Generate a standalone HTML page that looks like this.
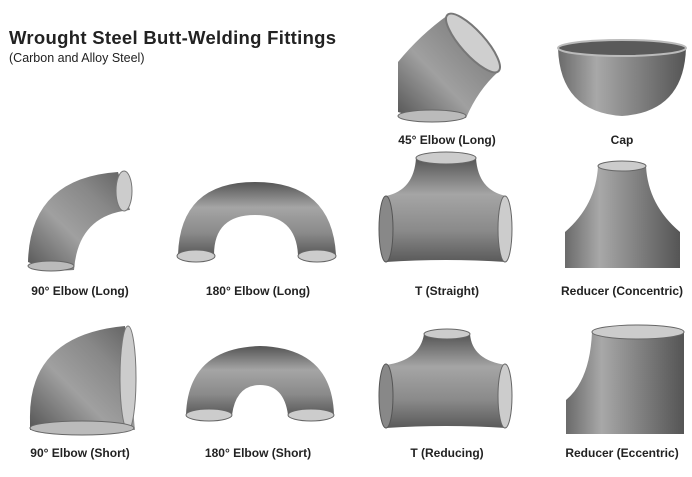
<!DOCTYPE html>
<html><head><meta charset="utf-8"><style>
html,body{margin:0;padding:0;background:#fff;width:692px;height:477px;overflow:hidden}
svg{display:block}
text{font-family:"Liberation Sans",sans-serif;fill:#222}
.l{font-size:12px;font-weight:bold;text-anchor:middle}
</style></head><body>
<svg width="692" height="477" viewBox="0 0 692 477" xmlns="http://www.w3.org/2000/svg">
<defs>
<linearGradient id="h" x1="0" x2="1" y1="0" y2="0"><stop offset="0" stop-color="#6a6a6a"/><stop offset=".3" stop-color="#a8a8a8"/><stop offset=".55" stop-color="#8a8a8a"/><stop offset="1" stop-color="#555"/></linearGradient>
<linearGradient id="v" x1="0" x2="0" y1="0" y2="1"><stop offset="0" stop-color="#555"/><stop offset=".35" stop-color="#a5a5a5"/><stop offset=".7" stop-color="#8a8a8a"/><stop offset="1" stop-color="#5a5a5a"/></linearGradient>
<linearGradient id="d" x1="0" x2="1" y1="1" y2="0"><stop offset="0" stop-color="#555"/><stop offset=".4" stop-color="#a0a0a0"/><stop offset=".7" stop-color="#888"/><stop offset="1" stop-color="#606060"/></linearGradient>
</defs>
<text x="9" y="44" font-size="18.5" font-weight="bold" letter-spacing="0.3">Wrought Steel Butt-Welding Fittings</text>
<text x="9" y="62" font-size="12.5" fill="#333">(Carbon and Alloy Steel)</text>

<!-- 45 elbow -->
<path d="M398 62 Q420 35 448 15 L498 72 Q478 90 466 118 Q430 122 398 112 Z" fill="url(#d)"/>
<ellipse cx="473" cy="43" rx="12" ry="38" transform="rotate(-42 473 43)" fill="#cfcfcf" stroke="#777" stroke-width="2"/>
<ellipse cx="432" cy="116" rx="34" ry="6" fill="#bbb" stroke="#666"/>
<text class="l" x="447" y="144">45° Elbow (Long)</text>

<!-- cap -->
<path d="M558 48 Q560 112 622 116 Q684 112 686 48 Z" fill="url(#h)"/>
<ellipse cx="622" cy="48" rx="64" ry="8" fill="#5a5a5a" stroke="#bbb" stroke-width="2"/>
<text class="l" x="622" y="144">Cap</text>

<!-- 90 long -->
<path d="M28 262 Q30 178 118 172 L130 210 Q78 215 74 270 Q50 272 28 262 Z" fill="url(#d)"/>
<ellipse cx="124" cy="191" rx="8" ry="20" fill="#ccc" stroke="#777"/>
<ellipse cx="51" cy="266" rx="23" ry="5" fill="#bbb" stroke="#666"/>
<text class="l" x="80" y="295">90° Elbow (Long)</text>

<!-- 180 long -->
<path d="M178 255 Q180 182 255 182 Q332 182 336 255 L298 255 Q296 215 255 215 Q214 215 214 255 Z" fill="url(#v)"/>
<ellipse cx="196" cy="256" rx="19" ry="6" fill="#ccc" stroke="#666"/>
<ellipse cx="317" cy="256" rx="19" ry="6" fill="#ccc" stroke="#666"/>
<text class="l" x="258" y="295">180° Elbow (Long)</text>

<!-- T straight -->
<path d="M416 158 L476 158 Q478 190 506 196 L506 262 Q446 258 386 262 L386 196 Q414 190 416 158 Z" fill="url(#v)"/>
<ellipse cx="446" cy="158" rx="30" ry="6" fill="#ccc" stroke="#666"/>
<ellipse cx="386" cy="229" rx="7" ry="33" fill="#888" stroke="#555"/>
<ellipse cx="505" cy="229" rx="7" ry="33" fill="#ccc" stroke="#666"/>
<text class="l" x="447" y="295">T (Straight)</text>

<!-- reducer concentric -->
<path d="M598 166 L646 166 Q648 205 680 232 L680 268 L565 268 L565 232 Q596 205 598 166 Z" fill="url(#h)"/>
<ellipse cx="622" cy="166" rx="24" ry="5" fill="#ccc" stroke="#666"/>
<text class="l" x="622" y="295">Reducer (Concentric)</text>

<!-- 90 short -->
<path d="M30 420 Q28 335 125 326 L135 430 L30 430 Z" fill="url(#d)"/>
<ellipse cx="128" cy="378" rx="8" ry="52" fill="#ccc" stroke="#777"/>
<ellipse cx="82" cy="428" rx="52" ry="7" fill="#bbb" stroke="#666"/>
<text class="l" x="80" y="457">90° Elbow (Short)</text>

<!-- 180 short -->
<path d="M186 415 Q188 348 260 346 Q332 348 334 415 L288 415 Q284 385 260 385 Q236 385 232 415 Z" fill="url(#v)"/>
<ellipse cx="209" cy="415" rx="23" ry="6" fill="#ccc" stroke="#666"/>
<ellipse cx="311" cy="415" rx="23" ry="6" fill="#ccc" stroke="#666"/>
<text class="l" x="258" y="457">180° Elbow (Short)</text>

<!-- T reducing -->
<path d="M424 334 L470 334 Q472 360 506 365 L506 428 Q446 424 386 428 L386 365 Q420 360 424 334 Z" fill="url(#v)"/>
<ellipse cx="447" cy="334" rx="23" ry="5" fill="#ccc" stroke="#666"/>
<ellipse cx="386" cy="396" rx="7" ry="32" fill="#888" stroke="#555"/>
<ellipse cx="505" cy="396" rx="7" ry="32" fill="#ccc" stroke="#666"/>
<text class="l" x="447" y="457">T (Reducing)</text>

<!-- reducer eccentric -->
<path d="M592 332 L684 332 L684 434 L566 434 L566 400 Q590 380 592 332 Z" fill="url(#h)"/>
<ellipse cx="638" cy="332" rx="46" ry="7" fill="#ccc" stroke="#666"/>
<text class="l" x="622" y="457">Reducer (Eccentric)</text>
</svg>
</body></html>
